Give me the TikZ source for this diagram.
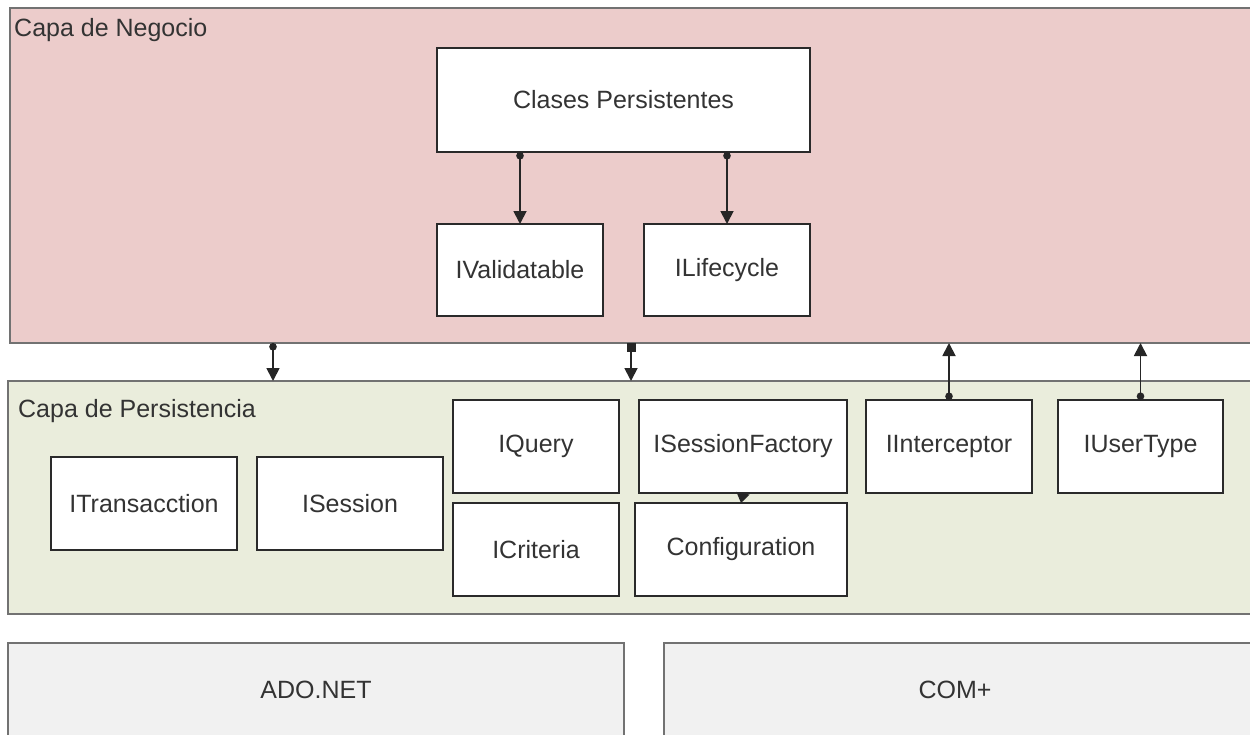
\documentclass[tikz,border=0pt]{standalone}
\usepackage{fontspec}
\setmainfont{Liberation Sans}
\usetikzlibrary{arrows.meta}
\definecolor{negfill}{HTML}{ECCCCB}
\definecolor{perfill}{HTML}{EAEDDC}
\definecolor{basefill}{HTML}{F1F1F1}
\definecolor{layerline}{HTML}{727272}
\definecolor{boxline}{HTML}{2A2A2A}
\definecolor{txt}{HTML}{333333}
\tikzset{
  layer/.style={draw=layerline, line width=2pt, anchor=north west, inner sep=0pt, outer sep=0pt},
  lbl/.style={text=txt, font=\fontsize{25}{29}\selectfont},
  box/.style={draw=boxline, fill=white, line width=1.5pt, inner sep=0pt, outer sep=0pt, lbl},
  title/.style={anchor=base west, inner sep=0pt, lbl},
  link/.style={draw=black!85, line width=1.8pt},
  dotarrow/.style={link, {Circle[length=7.5pt]}-{Triangle[length=13pt,width=13pt]}},
  sqarrow/.style={link, {Square[length=9pt]}-{Triangle[length=13pt,width=13pt]}},
}
\newcommand{\boxat}[6]{% name, x0, y0, x1, y1, text
  \node[box, minimum width={#4-#2}, minimum height={#5-#3}] (#1) at ({(#2+#4)/2},{(#3+#5)/2}) {#6};}
\begin{document}
\begin{tikzpicture}[x=1pt,y=-1pt]
\useasboundingbox (0,0) rectangle (1250,734);

% layers
\node[layer, fill=negfill, minimum width=1252pt, minimum height=335pt] (neg) at (10,8) {};
\node[title] at (14,36) {Capa de Negocio};
\node[layer, fill=perfill, minimum width=1252pt, minimum height=233pt] (per) at (8,381) {};
\node[title] at (18,417) {Capa de Persistencia};
\node[layer, fill=basefill, minimum width=616pt, minimum height=100pt] (ado) at (8,643) {};
\node[lbl] at (316,690) {ADO.NET};
\node[layer, fill=basefill, minimum width=588pt, minimum height=100pt] (com) at (664,643) {};
\node[lbl] at (955,690) {COM+};

% business layer
\boxat{cp}{437}{48}{810}{152}{Clases Persistentes}
\boxat{iv}{437}{224}{603}{316}{IValidatable}
\boxat{il}{644}{224}{810}{316}{ILifecycle}

% persistence layer
\boxat{itx}{51}{457}{237}{550}{ITransacction}
\boxat{ises}{257}{457}{443}{550}{ISession}
\boxat{iq}{453}{400}{619}{493}{IQuery}
\boxat{icr}{453}{503}{619}{596}{ICriteria}
\boxat{isf}{639}{400}{847}{493}{ISessionFactory}
\boxat{cfg}{635}{503}{847}{596}{Configuration}
\boxat{iint}{866}{400}{1032}{493}{IInterceptor}
\boxat{iut}{1058}{400}{1223}{493}{IUserType}

% connectors
\coordinate (xa) at (273,0);
\coordinate (xb) at (631,0);
\draw[dotarrow] (cp.south -| iv.north) -- (iv.north);
\draw[dotarrow] (cp.south -| il.north) -- (il.north);
\draw[dotarrow] (neg.south -| xa) -- (per.north -| xa);
\draw[sqarrow] (neg.south -| xb) -- (per.north -| xb);
\draw[dotarrow] (iint.north) -- (neg.south -| iint.north);
\draw[dotarrow] (iut.north) -- (neg.south -| iut.north);
\draw[link, -{Triangle[length=10pt,width=13pt]}] (isf.south) -- (cfg.north);
\end{tikzpicture}
\end{document}
